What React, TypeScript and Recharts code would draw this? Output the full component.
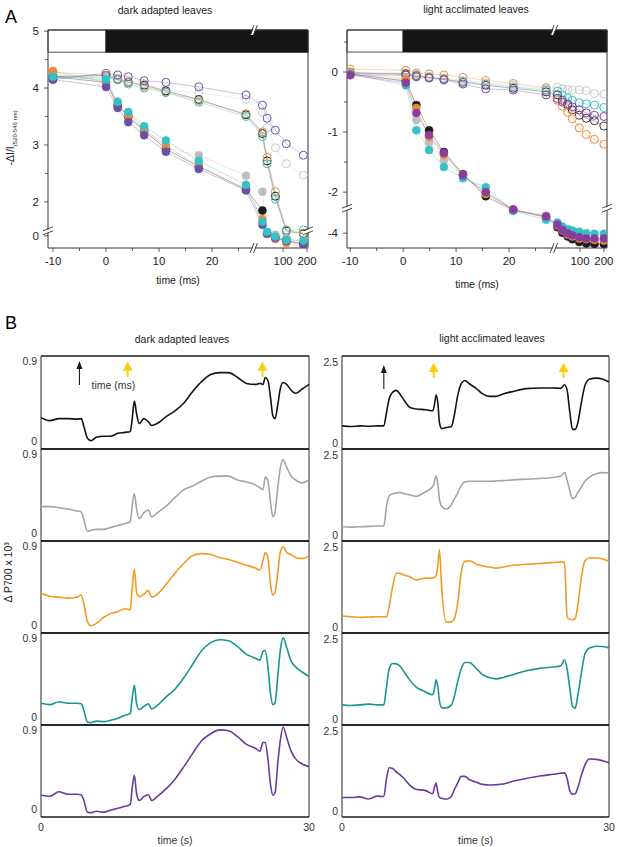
import React from 'react';
import { LineChart, Line, XAxis, YAxis, ReferenceArea, ReferenceDot, ReferenceLine } from 'recharts';

const FONT = '"Liberation Sans", Arial, Helvetica, sans-serif';

// ---------- Panel A: ECS decay, time in ms ----------
const darkTimesMs = [-10, 0, 2.2, 4.2, 7.2, 11.3, 17.5, 26.4, 55, 63, 80, 110, 180];
const darkOpenBlack = [4.2, 4.22, 4.15, 4.1, 4.05, 3.95, 3.8, 3.53, 3.2, 2.72, 2.1, 0.12, 0.05];
const darkOpenGray = [4.22, 4.22, 4.17, 4.12, 4.08, 3.96, 3.92, 3.8, 3.58, 3.3, 2.95, 2.67, 2.47];
const darkOpenOrange = [4.28, 4.22, 4.16, 4.1, 4.03, 3.93, 3.78, 3.55, 3.23, 2.78, 2.18, 0.15, 0.07];
const darkOpenCyan = [4.2, 4.18, 4.15, 4.07, 4.0, 3.92, 3.75, 3.5, 3.15, 2.67, 2.05, 0.14, 0.15];
const darkOpenPurple = [4.15, 4.26, 4.23, 4.2, 4.13, 4.1, 4.02, 3.88, 3.7, 3.47, 3.26, 3.02, 2.82];
const darkFilledBlack = [4.2, 4.1, 3.7, 3.5, 3.25, 2.93, 2.62, 2.22, 1.85, 0.05, -0.05, -0.12, -0.2];
const darkFilledGray = [4.25, 4.12, 3.7, 3.55, 3.3, 2.95, 2.82, 2.46, 2.18, 0.08, 0.03, -0.06, -0.15];
const darkFilledOrange = [4.3, 4.1, 3.72, 3.52, 3.27, 2.98, 2.63, 2.22, 1.7, 0.05, -0.08, -0.18, -0.28];
const darkFilledCyan = [4.2, 4.15, 3.76, 3.58, 3.33, 3.08, 2.72, 2.3, 1.65, 0.1, -0.02, -0.1, -0.12];
const darkFilledPurple = [4.15, 4.02, 3.65, 3.4, 3.17, 2.88, 2.58, 2.2, 1.6, 0.06, -0.05, -0.13, -0.22];

const lightTimesMs = [-10, 0.5, 2.5, 4.9, 7.7, 11.3, 15.6, 20.8, 27, 52, 60, 70, 80, 98, 120, 152, 200];
const lightOpenBlack = [-0.02, -0.03, -0.06, -0.09, -0.12, -0.17, -0.22, -0.27, -0.33, -0.38, -0.47, -0.55, -0.63, -0.72, -0.77, -0.81, -0.9];
const lightOpenGray = [0.0, -0.02, -0.04, -0.07, -0.1, -0.14, -0.18, -0.22, -0.28, -0.25, -0.28, -0.29, -0.3, -0.3, -0.31, -0.36, -0.37];
const lightOpenOrange = [0.05, 0.03, -0.02, -0.03, -0.05, -0.09, -0.14, -0.19, -0.26, -0.47, -0.57, -0.67, -0.78, -0.93, -1.04, -1.12, -1.2];
const lightOpenCyan = [0.0, -0.05, -0.07, -0.09, -0.12, -0.16, -0.2, -0.25, -0.3, -0.32, -0.38, -0.43, -0.47, -0.51, -0.53, -0.55, -0.59];
const lightOpenPurple = [-0.05, -0.05, -0.08, -0.1, -0.13, -0.2, -0.28, -0.3, -0.38, -0.44, -0.5, -0.53, -0.58, -0.63, -0.68, -0.72, -0.74];
const lightFilledBlack = [-0.03, -0.15, -0.55, -0.97, -1.33, -1.7, -2.07, -3.15, -3.4, -3.78, -3.98, -4.12, -4.22, -4.33, -4.38, -4.4, -4.4];
const lightFilledGray = [-0.03, -0.15, -0.8, -1.17, -1.47, -1.72, -2.0, -3.15, -3.35, -3.7, -3.92, -4.05, -4.15, -4.25, -4.35, -4.42, -4.45];
const lightFilledOrange = [0.0, -0.12, -0.6, -1.08, -1.38, -1.72, -2.03, -3.12, -3.42, -3.72, -3.9, -4.05, -4.12, -4.2, -4.22, -4.25, -4.27];
const lightFilledCyan = [-0.03, -0.22, -0.97, -1.3, -1.58, -1.77, -1.92, -3.18, -3.5, -3.6, -3.75, -3.85, -3.9, -3.95, -4.0, -4.02, -4.02];
const lightFilledPurple = [-0.05, -0.18, -0.68, -1.05, -1.35, -1.72, -2.0, -3.12, -3.38, -3.68, -3.88, -4.0, -4.08, -4.15, -4.2, -4.2, -4.2];

const msTickLabels = [-10, 0, 10, 20, 100, 200];
const msMinorTicks = [-5, 5, 15, 25];
const darkYLabels = [5, 4, 3, 2, 0];
const darkYMinor = [4.5, 3.5, 2.5];
const lightYLabels = [0, -1, -2, -4];
const lightYMinor = [0.5, -0.5, -1.5];

// broken axes: linear to ~28 ms then log; y compressed below the break
const msToAxis = (t: number) => (t <= 30 ? t : 33.4 + 15 * Math.log10(t / 100));
const darkToAxis = (v: number) => (v >= 1 ? v : 1.404 + 0.7 * v);
const lightToAxis = (v: number) => (v >= -2.5 ? v : (27 * (v + 4) - 161) / 60);

// ---------- Panel B: P700 traces, time in s ----------
const darkTraceSec = [0, 1, 2, 3, 4, 4.5, 4.8, 5.2, 5.6, 6.2, 7, 7.8, 8.6, 9.4, 10, 10.2, 10.45, 10.7, 11, 11.5, 12, 12.4, 13, 14, 15, 16, 17, 18, 19, 20, 21, 22, 23, 24, 24.5, 24.85, 25.1, 25.4, 25.7, 25.95, 26.2, 26.5, 26.8, 27.1, 27.5, 28, 28.5, 29.2, 30];
const darkTraceBlack = [0.32, 0.29, 0.31, 0.31, 0.305, 0.31, 0.23, 0.11, 0.085, 0.12, 0.13, 0.13, 0.16, 0.17, 0.18, 0.3, 0.49, 0.36, 0.26, 0.31, 0.28, 0.24, 0.26, 0.33, 0.39, 0.47, 0.59, 0.69, 0.76, 0.78, 0.78, 0.73, 0.67, 0.66, 0.67, 0.66, 0.73, 0.7, 0.52, 0.34, 0.31, 0.45, 0.62, 0.68, 0.66, 0.6, 0.57, 0.61, 0.66];
const darkTraceGray = [0.355, 0.355, 0.345, 0.33, 0.31, 0.3, 0.22, 0.1, 0.11, 0.12, 0.12, 0.14, 0.16, 0.18, 0.2, 0.36, 0.49, 0.33, 0.23, 0.29, 0.32, 0.25, 0.29, 0.36, 0.45, 0.53, 0.57, 0.62, 0.66, 0.67, 0.67, 0.63, 0.61, 0.58, 0.55, 0.53, 0.66, 0.62, 0.39, 0.25, 0.3, 0.55, 0.76, 0.84, 0.76, 0.67, 0.63, 0.6, 0.63];
const darkTraceOrange = [0.41, 0.38, 0.37, 0.36, 0.37, 0.39, 0.3, 0.12, 0.075, 0.1, 0.16, 0.2, 0.22, 0.25, 0.24, 0.45, 0.66, 0.42, 0.375, 0.4, 0.44, 0.37, 0.4, 0.5, 0.62, 0.72, 0.8, 0.82, 0.81, 0.78, 0.76, 0.73, 0.7, 0.67, 0.65, 0.75, 0.83, 0.78, 0.5, 0.39, 0.42, 0.62, 0.84, 0.89, 0.83, 0.81, 0.78, 0.77, 0.79];
const darkTraceTeal = [0.225, 0.21, 0.24, 0.225, 0.225, 0.22, 0.15, 0.03, 0.025, 0.04, 0.035, 0.05, 0.07, 0.1, 0.12, 0.27, 0.41, 0.22, 0.16, 0.19, 0.22, 0.165, 0.2, 0.29, 0.37, 0.49, 0.63, 0.77, 0.85, 0.88, 0.87, 0.81, 0.73, 0.69, 0.67, 0.76, 0.77, 0.6, 0.32, 0.21, 0.23, 0.5, 0.78, 0.9, 0.8, 0.66, 0.6, 0.55, 0.5];
const darkTracePurple = [0.225, 0.215, 0.26, 0.235, 0.235, 0.23, 0.17, 0.05, 0.045, 0.06, 0.05, 0.07, 0.09, 0.11, 0.13, 0.29, 0.43, 0.24, 0.17, 0.21, 0.23, 0.17, 0.21, 0.29, 0.39, 0.52, 0.66, 0.79, 0.86, 0.9, 0.89, 0.83, 0.75, 0.71, 0.68, 0.77, 0.77, 0.6, 0.33, 0.225, 0.25, 0.55, 0.8, 0.93, 0.82, 0.68, 0.6, 0.55, 0.52];

const lightTraceSec = [0, 1, 2, 3, 4, 4.7, 5.0, 5.3, 5.7, 6.1, 6.5, 7, 7.6, 8.3, 9.4, 10.2, 10.4, 10.57, 10.76, 10.95, 11.2, 11.7, 12.3, 12.6, 13.0, 13.4, 13.8, 14.3, 15.1, 15.8, 16.6, 17.3, 18.1, 19.2, 20.7, 22.2, 23.7, 24.6, 25.0, 25.3, 25.6, 25.9, 26.2, 26.5, 26.9, 27.3, 27.8, 28.6, 29.3, 30];
const lightTraceBlack = [0.66, 0.64, 0.66, 0.65, 0.66, 0.66, 1.04, 1.43, 1.62, 1.67, 1.57, 1.38, 1.19, 1.14, 1.12, 1.09, 1.28, 1.54, 1.33, 0.75, 0.58, 0.61, 0.64, 0.94, 1.52, 1.86, 1.95, 1.86, 1.72, 1.57, 1.5, 1.5, 1.57, 1.64, 1.72, 1.74, 1.74, 1.73, 1.83, 1.67, 1.04, 0.56, 0.56, 0.75, 1.33, 1.81, 1.99, 2.02, 1.99, 1.91];
const lightTraceGray = [0.41, 0.4, 0.41, 0.42, 0.43, 0.43, 1.0, 1.3, 1.36, 1.38, 1.4, 1.36, 1.33, 1.29, 1.42, 1.57, 1.72, 1.88, 1.67, 1.2, 1.0, 0.92, 1.05, 1.2, 1.38, 1.6, 1.7, 1.72, 1.72, 1.72, 1.72, 1.73, 1.74, 1.76, 1.78, 1.8, 1.83, 1.87, 1.97, 1.75, 1.45, 1.22, 1.26, 1.4, 1.55, 1.72, 1.84, 1.94, 1.97, 1.96];
const lightTraceOrange = [0.49, 0.47, 0.45, 0.46, 0.47, 0.47, 0.46, 0.76, 1.35, 1.72, 1.72, 1.66, 1.62, 1.53, 1.58, 1.58, 1.6, 1.65, 1.92, 2.4, 1.3, 0.31, 0.32, 0.4, 0.86, 1.75, 2.06, 2.08, 1.98, 1.93, 1.9, 1.87, 1.9, 1.95, 1.98, 2.0, 2.03, 2.05, 2.03, 0.45, 0.4, 0.38, 0.42, 0.8, 1.6, 2.08, 2.16, 2.16, 2.13, 2.06];
const lightTraceTeal = [0.58, 0.56, 0.58, 0.6, 0.58, 0.58, 1.1, 1.62, 1.77, 1.76, 1.7, 1.52, 1.3, 1.1, 0.95, 0.87, 1.06, 1.3, 1.11, 0.7, 0.5, 0.49, 0.58, 0.8, 1.25, 1.62, 1.8, 1.8, 1.62, 1.45, 1.36, 1.33, 1.37, 1.45, 1.56, 1.63, 1.67, 1.71, 1.88, 1.6, 1.05, 0.53, 0.48, 0.85, 1.5, 2.05, 2.22, 2.27, 2.26, 2.22];
const lightTracePurple = [0.56, 0.56, 0.58, 0.52, 0.6, 0.59, 1.1, 1.42, 1.4, 1.3, 1.22, 1.1, 0.92, 0.8, 0.76, 0.67, 0.87, 0.98, 0.72, 0.56, 0.54, 0.51, 0.6, 0.78, 0.98, 1.17, 1.17, 1.08, 1.0, 0.94, 0.92, 0.93, 0.95, 1.03, 1.11, 1.18, 1.23, 1.26, 1.27, 1.1, 0.75, 0.66, 0.67, 0.85, 1.2, 1.5, 1.67, 1.66, 1.62, 1.56];

const traceKeys = ['black', 'gray', 'orange', 'teal', 'purple'];
const traceColors = ['#141414', '#a5a5a5', '#f29a22', '#16968f', '#673c9a'];
const rowTops = [356, 449, 541, 633, 725];
const rowBottom = 817;

type Series = { key: string; values: number[]; color: string; open: boolean };

const ecsColors = { black: '#1c1c1c', gray: '#bdbdbd', orange: '#ef8a3a', cyan: '#36c1c6' };

const darkSeries: Series[] = [
  { key: 'oGray', values: darkOpenGray, color: '#c9c9c9', open: true },
  { key: 'oBlack', values: darkOpenBlack, color: ecsColors.black, open: true },
  { key: 'oOrange', values: darkOpenOrange, color: ecsColors.orange, open: true },
  { key: 'oCyan', values: darkOpenCyan, color: ecsColors.cyan, open: true },
  { key: 'oPurple', values: darkOpenPurple, color: '#6a52a8', open: true },
  { key: 'fGray', values: darkFilledGray, color: ecsColors.gray, open: false },
  { key: 'fBlack', values: darkFilledBlack, color: ecsColors.black, open: false },
  { key: 'fOrange', values: darkFilledOrange, color: ecsColors.orange, open: false },
  { key: 'fPurple', values: darkFilledPurple, color: '#6a4fa6', open: false },
  { key: 'fCyan', values: darkFilledCyan, color: ecsColors.cyan, open: false },
];

const lightSeries: Series[] = [
  { key: 'oGray', values: lightOpenGray, color: '#c9c9c9', open: true },
  { key: 'oBlack', values: lightOpenBlack, color: '#333', open: true },
  { key: 'oOrange', values: lightOpenOrange, color: ecsColors.orange, open: true },
  { key: 'oCyan', values: lightOpenCyan, color: ecsColors.cyan, open: true },
  { key: 'oPurple', values: lightOpenPurple, color: '#8b3c9f', open: true },
  { key: 'fGray', values: lightFilledGray, color: ecsColors.gray, open: false },
  { key: 'fBlack', values: lightFilledBlack, color: ecsColors.black, open: false },
  { key: 'fOrange', values: lightFilledOrange, color: ecsColors.orange, open: false },
  { key: 'fCyan', values: lightFilledCyan, color: ecsColors.cyan, open: false },
  { key: 'fPurple', values: lightFilledPurple, color: '#8b3c9f', open: false },
];

const buildKinetics = (times: number[], series: Series[], toAxis: (v: number) => number) =>
  times.map((t, i) => {
    const row: Record<string, number> = { x: msToAxis(t) };
    series.forEach((s) => {
      row[s.key] = toAxis(s.values[i]);
    });
    return row;
  });

const buildTraces = (times: number[], cols: number[][]) =>
  times.map((t, i) => {
    const row: Record<string, number> = { t };
    traceKeys.forEach((k, j) => {
      row[k] = cols[j][i];
    });
    return row;
  });

const darkRows = buildKinetics(darkTimesMs, darkSeries, darkToAxis);
const lightRows = buildKinetics(lightTimesMs, lightSeries, lightToAxis);
const darkTraceRows = buildTraces(darkTraceSec, [darkTraceBlack, darkTraceGray, darkTraceOrange, darkTraceTeal, darkTracePurple]);
const lightTraceRows = buildTraces(lightTraceSec, [lightTraceBlack, lightTraceGray, lightTraceOrange, lightTraceTeal, lightTracePurple]);

type TickLabel = { pos: number; text: string };
const findLabel = (labels: TickLabel[], v: number) => labels.find((l) => Math.abs(l.pos - v) < 1e-6);

const yTickA = (labels: TickLabel[]) => (p: any) => {
  const hit = findLabel(labels, p.payload.value);
  return (
    <g>
      <line x1={p.x} x2={p.x - (hit ? 4 : 3)} y1={p.y} y2={p.y} stroke="#333" strokeWidth={0.8} />
      {hit && (
        <text x={p.x - 9} y={p.y} dy={4} textAnchor="end" fontSize={11.5} fill="#222" fontFamily={FONT}>
          {hit.text}
        </text>
      )}
    </g>
  );
};

const xTickA = (labels: TickLabel[]) => (p: any) => {
  const hit = findLabel(labels, p.payload.value);
  return (
    <g>
      <line x1={p.x} x2={p.x} y1={p.y} y2={p.y + (hit ? 4 : 3)} stroke="#333" strokeWidth={0.8} />
      {hit && (
        <text x={p.x} y={p.y + 17} textAnchor="middle" fontSize={11.5} fill="#222" fontFamily={FONT}>
          {hit.text}
        </text>
      )}
    </g>
  );
};

const BreakMark = (p: any) => {
  const { cx, cy, dir } = p;
  if (cx == null || cy == null) return null;
  if (dir === 'h') {
    return (
      <g>
        <polygon points={`${cx - 4},${cy + 5} ${cx},${cy - 5} ${cx + 2},${cy - 5} ${cx - 2},${cy + 5}`} fill="#fff" />
        <line x1={cx - 5} y1={cy + 5} x2={cx - 1} y2={cy - 5} stroke="#333" strokeWidth={0.9} />
        <line x1={cx - 1.5} y1={cy + 5} x2={cx + 2.5} y2={cy - 5} stroke="#333" strokeWidth={0.9} />
      </g>
    );
  }
  return (
    <g>
      <polygon points={`${cx - 5},${cy + 2} ${cx + 5},${cy - 2} ${cx + 5},${cy + 1} ${cx - 5},${cy + 5}`} fill="#fff" />
      <line x1={cx - 5} y1={cy + 1} x2={cx + 5} y2={cy - 3} stroke="#333" strokeWidth={0.9} />
      <line x1={cx - 5} y1={cy + 5} x2={cx + 5} y2={cy + 1} stroke="#333" strokeWidth={0.9} />
    </g>
  );
};

type KineticsProps = {
  left: number;
  rows: Record<string, number>[];
  series: Series[];
  xDomain: [number, number];
  yDomain: [number, number];
  yLabels: TickLabel[];
  yMinor: number[];
  barBottom: number;
  breakX: number;
  breakY: number;
  marginLeft: number;
  marginRight: number;
  labelOffset: number;
};

function KineticsPanel(props: KineticsProps) {
  const { left, rows, series, xDomain, yDomain, yLabels, yMinor, barBottom, breakX, breakY } = props;
  const xLabels = msTickLabels.map((t) => ({ pos: msToAxis(t), text: String(t) }));
  const xTicks = [...msTickLabels, ...msMinorTicks].map(msToAxis);
  const yTicks = [...yLabels.map((l) => l.pos), ...yMinor];
  return (
    <div style={{ position: 'absolute', left, top: 0 }}>
      <LineChart
        width={320}
        height={300}
        data={rows}
        margin={{ top: 30, right: props.marginRight, bottom: 12, left: props.marginLeft }}
      >
        <XAxis
          dataKey="x"
          type="number"
          domain={xDomain}
          allowDataOverflow
          ticks={xTicks}
          interval={0}
          tickSize={0}
          tickMargin={0}
          tick={xTickA(xLabels)}
          height={40}
          stroke="#333"
          label={{ value: 'time (ms)', position: 'insideBottom', offset: props.labelOffset, fontSize: 10.5, fill: '#222', fontFamily: FONT }}
        />
        <YAxis
          type="number"
          domain={yDomain}
          allowDataOverflow
          ticks={yTicks}
          interval={0}
          tickSize={0}
          tickMargin={0}
          tick={yTickA(yLabels)}
          width={30}
          stroke="#333"
        />
        <ReferenceArea x1={xDomain[0]} x2={0} y1={barBottom} y2={yDomain[1]} fill="#fff" fillOpacity={1} stroke="#222" strokeWidth={0.8} ifOverflow="visible" />
        <ReferenceArea x1={0} x2={xDomain[1]} y1={barBottom} y2={yDomain[1]} fill="#151515" fillOpacity={1} stroke="#151515" ifOverflow="visible" />
        <ReferenceLine x={xDomain[1]} stroke="#333" ifOverflow="visible" />
        <ReferenceLine y={yDomain[1]} stroke="#333" ifOverflow="visible" />
        {series.map((s) => (
          <Line
            key={s.key}
            dataKey={s.key}
            type="linear"
            stroke={s.color}
            strokeWidth={0.7}
            strokeOpacity={0.5}
            isAnimationActive={false}
            activeDot={false}
            dot={{
              r: 4,
              fill: s.open ? 'none' : s.color,
              stroke: s.color,
              strokeWidth: s.open ? 1 : 0.5,
              strokeOpacity: 1,
              fillOpacity: 1,
            }}
          />
        ))}
        <ReferenceDot x={breakX} y={yDomain[0]} r={0} ifOverflow="visible" shape={(p: any) => <BreakMark {...p} dir="h" />} />
        <ReferenceDot x={breakX} y={yDomain[1]} r={0} ifOverflow="visible" shape={(p: any) => <BreakMark {...p} dir="h" />} />
        <ReferenceDot x={xDomain[0]} y={breakY} r={0} ifOverflow="visible" shape={(p: any) => <BreakMark {...p} dir="v" />} />
        <ReferenceDot x={xDomain[1]} y={breakY} r={0} ifOverflow="visible" shape={(p: any) => <BreakMark {...p} dir="v" />} />
      </LineChart>
    </div>
  );
}

const UpArrow = (p: any) => {
  const { cx, cy, color, len, headW, headH, stem, caption } = p;
  if (cx == null || cy == null) return null;
  return (
    <g>
      <line x1={cx} x2={cx} y1={cy + headH * 0.8} y2={cy + len} stroke={color} strokeWidth={stem} />
      <path d={`M${cx} ${cy} L${cx - headW / 2} ${cy + headH} L${cx + headW / 2} ${cy + headH} Z`} fill={color} />
      {caption && (
        <text x={cx + 34} y={cy + 28} textAnchor="middle" fontSize={10.5} fill="#333" fontFamily={FONT}>
          {caption}
        </text>
      )}
    </g>
  );
};

type ArrowSpec = { t: number; v: number; kind: 'black' | 'yellow'; caption?: string };

type TraceProps = {
  rows: Record<string, number>[];
  dataKey: string;
  color: string;
  plotLeft: number;
  plotWidth: number;
  top: number;
  height: number;
  yMax: number;
  topTick: number;
  zeroDy: number;
  topDy: number;
  last: boolean;
  arrows: ArrowSpec[];
};

function TraceRow(props: TraceProps) {
  const { rows, dataKey, color, plotLeft, plotWidth, top, height, yMax, topTick, last, arrows } = props;
  const pad = 8;
  const axisW = 40;
  const yTick = (p: any) => {
    const isTop = p.payload.value > 0;
    return (
      <text x={p.x - 4} y={p.y} dy={isTop ? props.topDy : props.zeroDy} textAnchor="end" fontSize={10.5} fill="#333" fontFamily={FONT}>
        {String(p.payload.value)}
      </text>
    );
  };
  const xTick = (p: any) => (
    <text x={p.x} y={p.y + 14} textAnchor="middle" fontSize={10.5} fill="#333" fontFamily={FONT}>
      {String(p.payload.value)}
    </text>
  );
  return (
    <div style={{ position: 'absolute', left: plotLeft - axisW, top: top - pad }}>
      <LineChart
        width={plotWidth + axisW + pad}
        height={height + pad + (last ? 30 : pad)}
        data={rows}
        margin={{ top: pad, right: pad, bottom: last ? 0 : pad, left: 0 }}
      >
        <XAxis
          dataKey="t"
          type="number"
          domain={[0, 30]}
          allowDataOverflow
          hide={!last}
          height={30}
          ticks={[0, 30]}
          interval={0}
          axisLine={false}
          tickSize={0}
          tickMargin={0}
          tick={xTick}
          label={{ value: 'time (s)', position: 'insideBottom', offset: 3, fontSize: 10.5, fill: '#333', fontFamily: FONT }}
        />
        <YAxis
          type="number"
          domain={[0, yMax]}
          allowDataOverflow
          width={axisW}
          ticks={[0, topTick]}
          interval={0}
          axisLine={false}
          tickSize={0}
          tickMargin={0}
          tick={yTick}
        />
        <ReferenceLine x={0} stroke="#666" strokeWidth={1.4} ifOverflow="visible" />
        <ReferenceLine x={30} stroke="#666" strokeWidth={1.4} ifOverflow="visible" />
        <ReferenceLine y={yMax} stroke="#1a1a1a" strokeWidth={1.4} ifOverflow="visible" />
        <ReferenceLine y={0} stroke="#1a1a1a" strokeWidth={1.4} ifOverflow="visible" />
        <Line dataKey={dataKey} type="monotone" stroke={color} strokeWidth={1.6} dot={false} activeDot={false} isAnimationActive={false} />
        {arrows.map((a, i) => (
          <ReferenceDot
            key={i}
            x={a.t}
            y={a.v}
            r={0}
            ifOverflow="visible"
            shape={(p: any) =>
              a.kind === 'black' ? (
                <UpArrow {...p} color="#1a1a1a" len={24} headW={6} headH={8} stem={1.1} caption={a.caption} />
              ) : (
                <UpArrow {...p} color="#f7cf0a" len={15} headW={10} headH={9} stem={1.8} />
              )
            }
          />
        ))}
      </LineChart>
    </div>
  );
}

const darkArrows: ArrowSpec[] = [
  { t: 4.3, v: 0.9, kind: 'black', caption: 'time (ms)' },
  { t: 9.7, v: 0.89, kind: 'yellow' },
  { t: 24.8, v: 0.89, kind: 'yellow' },
];
const lightArrows: ArrowSpec[] = [
  { t: 4.7, v: 2.39, kind: 'black' },
  { t: 10.3, v: 2.45, kind: 'yellow' },
  { t: 24.9, v: 2.45, kind: 'yellow' },
];

const Caption = ({ x, y, size = 10.5, children }: { x: number; y: number; size?: number; children: React.ReactNode }) => (
  <div
    style={{
      position: 'absolute',
      left: x - 150,
      top: y - size * 0.6,
      width: 300,
      textAlign: 'center',
      fontSize: size,
      lineHeight: `${size * 1.2}px`,
      color: '#222',
      whiteSpace: 'nowrap',
    }}
  >
    {children}
  </div>
);

const Rotated = ({ x, y, size = 10.5, children }: { x: number; y: number; size?: number; children: React.ReactNode }) => (
  <div
    style={{
      position: 'absolute',
      left: x - 100,
      top: y - size * 0.6,
      width: 200,
      textAlign: 'center',
      fontSize: size,
      lineHeight: `${size * 1.2}px`,
      color: '#222',
      whiteSpace: 'nowrap',
      transform: 'rotate(-90deg)',
    }}
  >
    {children}
  </div>
);

export default function App() {
  return (
    <div
      style={{
        position: 'fixed',
        left: 0,
        top: 0,
        width: 617,
        height: 847,
        background: '#fff',
        overflow: 'hidden',
        fontFamily: FONT,
      }}
    >
      <div style={{ position: 'absolute', left: 5, top: 8, fontSize: 18, lineHeight: '18px' }}>A</div>
      <div style={{ position: 'absolute', left: 5, top: 314, fontSize: 18, lineHeight: '18px' }}>B</div>

      <Caption x={165} y={10}>dark adapted leaves</Caption>
      <Caption x={476} y={9}>light acclimated leaves</Caption>
      <Caption x={182} y={339}>dark adapted leaves</Caption>
      <Caption x={492} y={338}>light acclimated leaves</Caption>

      <Rotated x={13} y={135}>
        -ΔI/I<sub style={{ fontSize: 6 }}>(520-546 nm)</sub>
      </Rotated>
      <Rotated x={8} y={572}>Δ P700 x 10³</Rotated>

      <KineticsPanel
        left={0}
        rows={darkRows}
        series={darkSeries}
        xDomain={[-10.94, 38.1]}
        yDomain={[1.19, 5.02]}
        yLabels={darkYLabels.map((v) => ({ pos: darkToAxis(v), text: String(v) }))}
        yMinor={darkYMinor.map(darkToAxis)}
        barBottom={4.63}
        breakX={28.1}
        breakY={1.51}
        marginLeft={18}
        marginRight={12}
        labelOffset={4}
      />
      <KineticsPanel
        left={300}
        rows={lightRows}
        series={lightSeries}
        xDomain={[-10.6, 38.5]}
        yDomain={[-2.93, 0.7]}
        yLabels={lightYLabels.map((v) => ({ pos: lightToAxis(v), text: String(v) }))}
        yMinor={lightYMinor.map(lightToAxis)}
        barBottom={0.333}
        breakX={28.7}
        breakY={-2.25}
        marginLeft={17}
        marginRight={13}
        labelOffset={0}
      />

      {traceKeys.map((k, i) => (
        <TraceRow
          key={`d-${k}`}
          rows={darkTraceRows}
          dataKey={k}
          color={traceColors[i]}
          plotLeft={41}
          plotWidth={268}
          top={rowTops[i]}
          height={(i < 4 ? rowTops[i + 1] : rowBottom) - rowTops[i]}
          yMax={0.95}
          topTick={0.9}
          topDy={4}
          zeroDy={-4.5}
          last={i === 4}
          arrows={i === 0 ? darkArrows : []}
        />
      ))}
      {traceKeys.map((k, i) => (
        <TraceRow
          key={`l-${k}`}
          rows={lightTraceRows}
          dataKey={k}
          color={traceColors[i]}
          plotLeft={342}
          plotWidth={267}
          top={rowTops[i]}
          height={(i < 4 ? rowTops[i + 1] : rowBottom) - rowTops[i]}
          yMax={2.65}
          topTick={2.5}
          topDy={4.5}
          zeroDy={-2.5}
          last={i === 4}
          arrows={i === 0 ? lightArrows : []}
        />
      ))}
    </div>
  );
}
